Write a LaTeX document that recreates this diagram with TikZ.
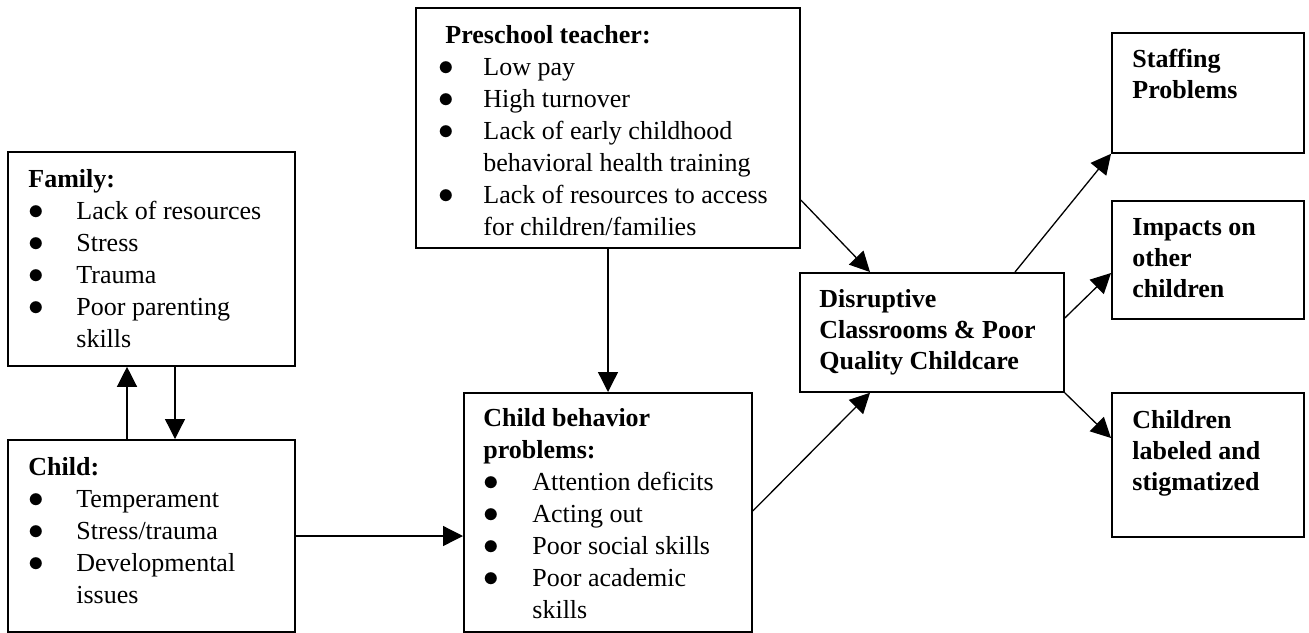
\documentclass[tikz,border=0pt]{standalone}
\usepackage{fontspec}
\usepackage{graphicx}
\setmainfont{Liberation Serif}
\usetikzlibrary{arrows.meta}
\newcommand{\bul}{\scalebox{1.3}{$\bullet$}}
\tikzset{
  box/.style={draw, line width=0.9pt, inner sep=0pt, anchor=north west},
  txt/.style={anchor=base west, inner sep=0pt, font=\fontsize{13}{16}\selectfont},
  btxt/.style={anchor=base west, inner sep=0pt, font=\bfseries\fontsize{13}{15.5}\selectfont},
  arr/.style={line width=0.65pt, -{Triangle[length=10pt,width=10pt]}},
}
\begin{document}
\begin{tikzpicture}[x=0.5pt,y=-0.5pt]
\useasboundingbox (0,0) rectangle (1309,632);
% boxes
\node[box, minimum width=143.5pt, minimum height=107pt] (family) at (7,151) {};
\node[box, minimum width=143.5pt, minimum height=96pt] (child) at (7,439) {};
\node[box, minimum width=192pt, minimum height=120pt] (pre) at (415,7) {};
\node[box, minimum width=144pt, minimum height=119.5pt] (cbp) at (463,392) {};
\node[box, minimum width=132pt, minimum height=59.5pt] (dis) at (799,272) {};
\node[box, minimum width=96pt, minimum height=60pt] (staff) at (1111,32) {};
\node[box, minimum width=96pt, minimum height=59pt] (imp) at (1111,200) {};
\node[box, minimum width=96pt, minimum height=72pt] (lab) at (1111,392) {};
% texts
\node[txt] (familytxt) at (28,187) {\begin{tabular}[t]{@{}p{24pt}@{}l@{}}
\multicolumn{2}{@{}l@{}}{\textbf{Family:}}\\
\bul & Lack of resources\\
\bul & Stress\\
\bul & Trauma\\
\bul & Poor parenting\\
 & skills
\end{tabular}};
\node[txt] (childtxt) at (28,475) {\begin{tabular}[t]{@{}p{24pt}@{}l@{}}
\multicolumn{2}{@{}l@{}}{\textbf{Child:}}\\
\bul & Temperament\\
\bul & Stress/trauma\\
\bul & Developmental\\
 & issues
\end{tabular}};
\node[txt] (pretxt) at (438,43) {\begin{tabular}[t]{@{}p{22.5pt}@{}l@{}}
\multicolumn{2}{@{}l@{}}{\hspace{3.5pt}\textbf{Preschool teacher:}}\\
\bul & Low pay\\
\bul & High turnover\\
\bul & Lack of early childhood\\
 & behavioral health training\\
\bul & Lack of resources to access\\
 & for children/families
\end{tabular}};
\node[txt] (cbptxt) at (483,426) {\begin{tabular}[t]{@{}p{24.5pt}@{}l@{}}
\multicolumn{2}{@{}l@{}}{\textbf{Child behavior}}\\
\multicolumn{2}{@{}l@{}}{\textbf{problems:}}\\
\bul & Attention deficits\\
\bul & Acting out\\
\bul & Poor social skills\\
\bul & Poor academic\\
 & skills
\end{tabular}};
\node[btxt] (distxt) at (819,307) {\begin{tabular}[t]{@{}l@{}}
Disruptive\\ Classrooms \& Poor\\ Quality Childcare
\end{tabular}};
\node[btxt] (stafftxt) at (1132,67) {\begin{tabular}[t]{@{}l@{}}
Staffing\\ Problems
\end{tabular}};
\node[btxt] (imptxt) at (1132,235) {\begin{tabular}[t]{@{}l@{}}
Impacts on\\ other\\ children
\end{tabular}};
\node[btxt] (labtxt) at (1132,428) {\begin{tabular}[t]{@{}l@{}}
Children\\ labeled and\\ stigmatized
\end{tabular}};
% connectors
\draw[arr] ([xshift=60pt]child.north west) -- ([xshift=60pt]family.south west);
\draw[arr] ([xshift=84pt]family.south west) -- ([xshift=84pt]child.north west);
\draw[arr] ([yshift=-48.5pt]child.north east) -- ([yshift=-48.5pt]child.north east -| cbp.west);
\draw[arr] ([xshift=96.5pt]pre.south west) -- ([xshift=96.5pt]pre.south west |- cbp.north);
\draw[arr] ([yshift=-96.5pt]pre.north east) -- ([xshift=35.5pt]dis.north west);
\draw[arr] ([yshift=-59.5pt]cbp.north east) -- ([xshift=35.5pt]dis.south west);
\draw[arr] ([xshift=108pt]dis.north west) -- (staff.south west);
\draw[arr] ([yshift=-23pt]dis.north east) -- ([yshift=-36.5pt]imp.north west);
\draw[arr] (dis.south east) -- ([yshift=-23pt]lab.north west);
\end{tikzpicture}
\end{document}
